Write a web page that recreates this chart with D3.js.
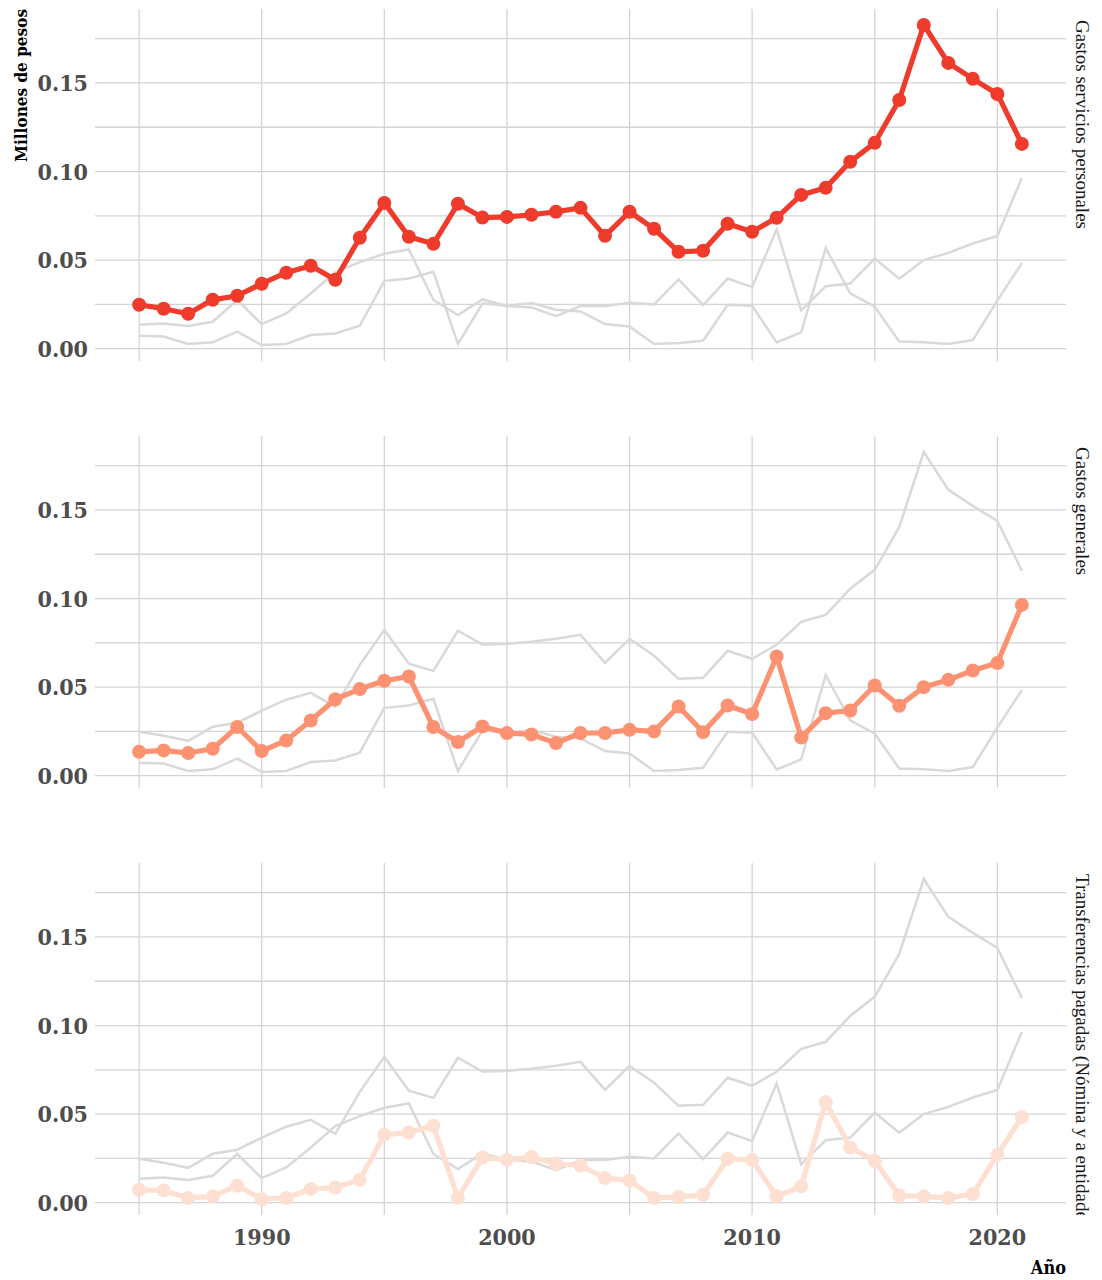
<!DOCTYPE html>
<html>
<head>
<meta charset="utf-8">
<script src="https://cdn.jsdelivr.net/npm/d3@7"></script>
<style>
  body { margin: 0; background: #fff; }
  svg { display: block; }
</style>
</head>
<body>
<script>
const width = 1102;
const height = 1280;

const years = d3.range(1985, 2022);

const gastosServicios = [
  0.0248, 0.0226, 0.0197, 0.0276, 0.0299, 0.0367, 0.0429, 0.0468, 0.0389, 0.0626,
  0.0823, 0.0632, 0.0592, 0.0818, 0.0740, 0.0744, 0.0756, 0.0773, 0.0795, 0.0637,
  0.0773, 0.0677, 0.0547, 0.0553, 0.0705, 0.0660, 0.0739, 0.0868, 0.0908, 0.1055,
  0.1162, 0.1404, 0.1827, 0.1613, 0.1523, 0.1438, 0.1156
];
const gastosGenerales = [
  0.0135, 0.0143, 0.0128, 0.0152, 0.0275, 0.0139, 0.0199, 0.0312, 0.0432, 0.0489,
  0.0536, 0.0560, 0.0275, 0.0190, 0.0278, 0.0241, 0.0233, 0.0184, 0.0241, 0.0241,
  0.0259, 0.0250, 0.0391, 0.0246, 0.0396, 0.0348, 0.0673, 0.0216, 0.0353, 0.0368,
  0.0509, 0.0395, 0.0500, 0.0541, 0.0594, 0.0636, 0.0964
];
const transferencias = [
  0.0073, 0.0069, 0.0027, 0.0036, 0.0096, 0.0021, 0.0027, 0.0077, 0.0086, 0.0130,
  0.0383, 0.0396, 0.0434, 0.0027, 0.0255, 0.0242, 0.0258, 0.0220, 0.0210, 0.0139,
  0.0126, 0.0027, 0.0032, 0.0045, 0.0248, 0.0242, 0.0036, 0.0092, 0.0568, 0.0312,
  0.0237, 0.0041, 0.0036, 0.0027, 0.0049, 0.0271, 0.0483
];

const seriesNames = [
  'Gastos servicios personales',
  'Gastos generales',
  'Transferencias pagadas (Nómina y a entidades)'
];
const seriesColors = ['#EF3B2C', '#FC9272', '#FEE0D2'];

const yTicks = [0, 0.05, 0.10, 0.15];
const yMinor = [0.025, 0.075, 0.125, 0.175];
const xTicks = [1990, 2000, 2010, 2020];
const xMinor = [1985, 1995, 2005, 2015];

const tickFont = '"DejaVu Serif Condensed", "DejaVu Serif", serif';
const stripFont = '"Liberation Serif", "Times New Roman", serif';

const panelLeft = 95;
const panelRight = 1066;
const panelH = 352;
const panelTops = [9, 436, 863];

function main() {
  const seriesValues = [gastosServicios, gastosGenerales, transferencias];
  const series = seriesNames.map((name, i) => ({
    name,
    color: seriesColors[i],
    values: years.map((year, j) => ({ year, value: seriesValues[i][j] }))
  }));

  const svg = d3.select('body').append('svg').attr('width', width).attr('height', height);

  const xExt = d3.extent(years);
  const xPad = (xExt[1] - xExt[0]) * 0.05;
  const x = d3.scaleLinear().domain([xExt[0] - xPad, xExt[1] + xPad]).range([panelLeft, panelRight]);

  const all = seriesValues.flat();
  const yExt = d3.extent(all);
  const yPad = (yExt[1] - yExt[0]) * 0.05;

  series.forEach((s, i) => {
    const top = panelTops[i];
    const y = d3.scaleLinear().domain([yExt[0] - yPad, yExt[1] + yPad]).range([top + panelH, top]);
    createPanel(svg, series, s, i, x, y, top);
  });

  // x axis labels under bottom panel
  svg.append('g')
    .selectAll('text')
    .data(xTicks)
    .enter()
    .append('text')
    .attr('x', d => x(d))
    .attr('y', panelTops[2] + panelH + 30)
    .attr('text-anchor', 'middle')
    .attr('font-family', tickFont)
    .attr('font-weight', 'bold')
    .attr('font-size', '23px')
    .attr('fill', '#4d4d4d')
    .text(d => d);

  svg.append('text')
    .attr('x', panelRight)
    .attr('y', 1274)
    .attr('text-anchor', 'end')
    .attr('font-family', tickFont)
    .attr('font-weight', 'bold')
    .attr('font-size', '18px')
    .attr('fill', '#000')
    .text('Año');

  svg.append('text')
    .attr('transform', 'translate(27,9) rotate(-90)')
    .attr('text-anchor', 'end')
    .attr('font-family', tickFont)
    .attr('font-weight', 'bold')
    .attr('font-size', '17px')
    .attr('fill', '#000')
    .text('Millones de pesos');
}

function createPanel(svg, series, s, i, x, y, top) {
  const g = svg.append('g').attr('class', 'panel');
  const bottom = top + panelH;

  g.selectAll('.hgrid')
    .data(yTicks.concat(yMinor))
    .enter()
    .append('line')
    .attr('x1', panelLeft)
    .attr('x2', panelRight)
    .attr('y1', d => y(d))
    .attr('y2', d => y(d))
    .attr('stroke', '#d4d4d4')
    .attr('stroke-width', 1.3);

  g.selectAll('.vgrid')
    .data(xTicks.concat(xMinor))
    .enter()
    .append('line')
    .attr('x1', d => x(d))
    .attr('x2', d => x(d))
    .attr('y1', top)
    .attr('y2', bottom)
    .attr('stroke', '#d4d4d4')
    .attr('stroke-width', 1.3);

  g.selectAll('.ylab')
    .data(yTicks)
    .enter()
    .append('text')
    .attr('x', 88)
    .attr('y', d => y(d))
    .attr('dy', '0.36em')
    .attr('text-anchor', 'end')
    .attr('font-family', tickFont)
    .attr('font-weight', 'bold')
    .attr('font-size', '23px')
    .attr('fill', '#4d4d4d')
    .text(d => d.toFixed(2));

  const line = d3.line().x(d => x(d.year)).y(d => y(d.value));

  g.selectAll('.bg')
    .data(series.filter(o => o.name !== s.name))
    .enter()
    .append('path')
    .attr('d', d => line(d.values))
    .attr('fill', 'none')
    .attr('stroke', '#d9d9d9')
    .attr('stroke-width', 2.5);

  g.append('path')
    .attr('d', line(s.values))
    .attr('fill', 'none')
    .attr('stroke', s.color)
    .attr('stroke-width', 5.2)
    .attr('stroke-linejoin', 'round');

  g.selectAll('.pt')
    .data(s.values)
    .enter()
    .append('circle')
    .attr('cx', d => x(d.year))
    .attr('cy', d => y(d.value))
    .attr('r', 7)
    .attr('fill', s.color);

  // strip label, clipped to panel height
  const clipId = 'strip' + i;
  svg.append('clipPath')
    .attr('id', clipId)
    .append('rect')
    .attr('x', panelRight)
    .attr('y', top)
    .attr('width', width - panelRight)
    .attr('height', panelH);

  svg.append('g')
    .attr('clip-path', `url(#${clipId})`)
    .append('text')
    .attr('transform', `translate(1076,${top + 11}) rotate(90)`)
    .attr('font-family', stripFont)
    .attr('font-size', '19px')
    .attr('fill', '#1a1a1a')
    .text(s.name);
}

main();
</script>
</body>
</html>
